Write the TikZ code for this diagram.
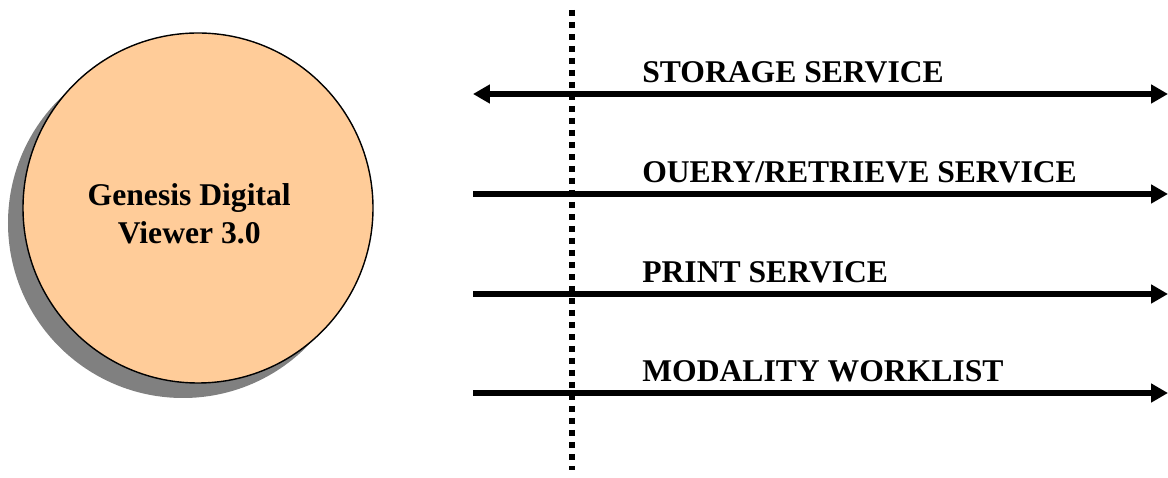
\documentclass[tikz,border=0pt]{standalone}
\usepackage{fontspec}
\setmainfont{Liberation Serif}
\usepackage{tikz}
\usetikzlibrary{arrows.meta, positioning, shadows}
\usepackage{xcolor}
\definecolor{peach}{HTML}{FFCC99}
\definecolor{shadowgray}{HTML}{808080}
\tikzset{%
	viewer/.style={
		circle,
		draw,
		line width=1pt,
		fill=peach,
		minimum size=8.75cm,
		drop shadow={shadow xshift=-0.375cm, shadow yshift=-0.375cm, fill=shadowgray, opacity=1}
	},
	big text/.style={
		font=\bfseries\fontsize{22.5}{27}\selectfont
	},
	service/.style={
		line width=4pt
	},
	service label/.style={
		big text,
		anchor=base west,
		inner sep=0pt
	},
	boundary/.style={
		line width=0.16cm,
		dash pattern=on 0.15cm off 0.15cm
	},
}

\begin{document}
\begin{tikzpicture}
			\useasboundingbox (0,0) rectangle (29.2,11.95);
			
			% Draw the viewer circle
			\node[viewer] (viewer) at (4.95,6.75) {};
			\node[big text, align=center, anchor=center] (viewerlabel) at (4.73,6.6) {Genesis Digital\\Viewer 3.0};
			
			% Draw the dotted boundary
			\coordinate (btop) at (14.3,11.7);
			\coordinate (bbot) at (14.3,0.2);
			\draw[boundary] (btop) -- (bbot);
			
			% Draw the storage arrow
			\coordinate (storagel) at (11.825,9.6);
			\coordinate (storager) at (29.2,9.6);
			\draw[service, {Triangle[length=0.42cm, width=0.45cm]}-{Triangle[length=0.42cm, width=0.45cm]}] (storagel) -- (storager);
			\node[service label] (storage) at (16.05,9.875) {STORAGE SERVICE};
			
			% Draw the query arrow
			\coordinate (queryl) at (11.825,7.1);
			\coordinate (queryr) at (29.2,7.1);
			\draw[service, -{Triangle[length=0.42cm, width=0.45cm]}] (queryl) -- (queryr);
			\node[service label] (query) at (16.05,7.375) {OUERY/RETRIEVE SERVICE};
			
			% Draw the print arrow
			\coordinate (printl) at (11.825,4.6);
			\coordinate (printr) at (29.2,4.6);
			\draw[service, -{Triangle[length=0.42cm, width=0.45cm]}] (printl) -- (printr);
			\node[service label] (print) at (16.05,4.875) {PRINT SERVICE};
			
			% Draw the worklist arrow
			\coordinate (worklistl) at (11.825,2.125);
			\coordinate (worklistr) at (29.2,2.125);
			\draw[service, -{Triangle[length=0.42cm, width=0.45cm]}] (worklistl) -- (worklistr);
			\node[service label] (worklist) at (16.05,2.4) {MODALITY WORKLIST};
			
		\end{tikzpicture}
\end{document}
